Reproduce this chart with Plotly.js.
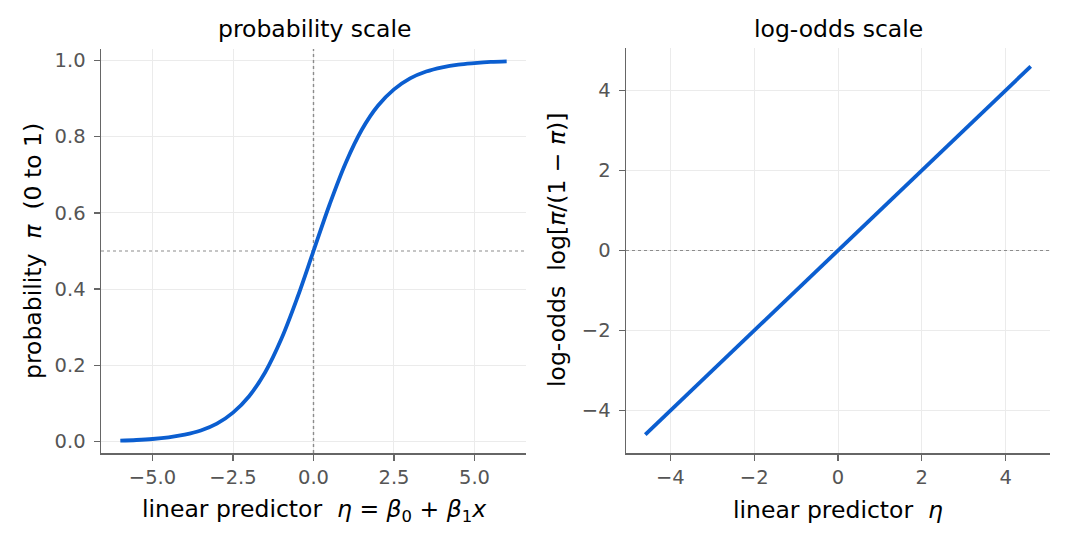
<!DOCTYPE html>
<html>
<head>
<meta charset="utf-8">
<script src="https://cdn.plot.ly/plotly-3.0.1.min.js"></script>
<style>
  html, body { margin: 0; padding: 0; background: #fff; }
  #chart { width: 1068px; height: 543px; }
</style>
</head>
<body>
<div id="chart"></div>
<script>
// Linear predictor values and the corresponding probabilities (logistic curve)
const eta = [-6, -5.5, -5, -4.5, -4, -3.5, -3, -2.5, -2, -1.5, -1, -0.5, 0,
             0.5, 1, 1.5, 2, 2.5, 3, 3.5, 4, 4.5, 5, 5.5, 6];
const prob = [0.0025, 0.0041, 0.0067, 0.011, 0.018, 0.029, 0.047, 0.076, 0.119, 0.182, 0.269, 0.378, 0.5,
              0.622, 0.731, 0.818, 0.881, 0.924, 0.953, 0.971, 0.982, 0.989, 0.993, 0.996, 0.9975];

// Log-odds panel: straight line across the same predictor
const etaLogit = [-4.6, -2, 0, 2, 4.6];
const logOdds = [-4.6, -2, 0, 2, 4.6];

// Tick positions
const probTicksX = [-5, -2.5, 0, 2.5, 5];
const probTicksY = [0, 0.2, 0.4, 0.6, 0.8, 1.0];
const logitTicks = [-4, -2, 0, 2, 4];

const W = 1068, H = 543;
const px = v => v / W;
const py = v => 1 - v / H;

const FONT = 'DejaVu Sans, Liberation Sans, sans-serif';
const BLUE = '#0b5ed0';
const SPINE = '#666666';
const TICKTXT = '#555555';
const GRID = '#ebebeb';
const REF = '#8c8c8c';
const LABEL_SIZE = 23.5;

const axisBase = {
  showline: true, linecolor: SPINE, linewidth: 1.5, mirror: false,
  ticks: 'outside', ticklen: 6, tickwidth: 1.3, tickcolor: SPINE,
  showgrid: true, gridcolor: GRID, gridwidth: 1,
  zeroline: false,
  tickfont: { family: FONT, size: 19.5, color: TICKTXT },
  fixedrange: true
};

const traces = [
  { x: eta, y: prob, type: 'scatter', mode: 'lines', xaxis: 'x', yaxis: 'y',
    line: { color: BLUE, width: 3.8, shape: 'spline', smoothing: 1 }, hoverinfo: 'skip' },
  { x: etaLogit, y: logOdds, type: 'scatter', mode: 'lines', xaxis: 'x2', yaxis: 'y2',
    line: { color: BLUE, width: 3.8 }, hoverinfo: 'skip' }
];

const layout = {
  width: W, height: H,
  margin: { l: 0, r: 0, t: 0, b: 0 },
  paper_bgcolor: '#ffffff', plot_bgcolor: '#ffffff',
  showlegend: false,
  font: { family: FONT, color: '#000' },
  xaxis: Object.assign({}, axisBase, {
    domain: [px(101), px(526)], range: [-6.6, 6.6],
    tickvals: probTicksX, tickformat: '.1f', anchor: 'y'
  }),
  yaxis: Object.assign({}, axisBase, {
    domain: [py(453), py(49)], range: [-0.03, 1.03],
    tickvals: probTicksY, tickformat: '.1f', anchor: 'x', ticklabelstandoff: 4
  }),
  xaxis2: Object.assign({}, axisBase, {
    domain: [px(626), px(1050)], range: [-5.06, 5.06],
    tickvals: logitTicks, anchor: 'y2'
  }),
  yaxis2: Object.assign({}, axisBase, {
    domain: [py(453), py(48)], range: [-5.06, 5.06],
    tickvals: logitTicks, anchor: 'x2', ticklabelstandoff: 4
  }),
  shapes: [
    // reference lines: eta = 0 and pi = 0.5 on the probability panel
    { type: 'line', xref: 'x', yref: 'y', x0: 0, x1: 0, y0: -0.03, y1: 1.03,
      line: { color: REF, width: 1.4, dash: 'dot' }, layer: 'between' },
    { type: 'line', xref: 'x', yref: 'y', x0: -6.6, x1: 6.6, y0: 0.5, y1: 0.5,
      line: { color: REF, width: 1.2, dash: 'dot' }, layer: 'between' },
    // log-odds = 0 on the log-odds panel
    { type: 'line', xref: 'x2', yref: 'y2', x0: -5.06, x1: 5.06, y0: 0, y1: 0,
      line: { color: REF, width: 1.2, dash: 'dot' }, layer: 'between' }
  ],
  annotations: [
    { text: 'probability scale', xref: 'paper', yref: 'paper', x: px(314), y: py(29),
      showarrow: false, font: { family: FONT, size: LABEL_SIZE, color: '#000' }, xanchor: 'center', yanchor: 'middle' },
    { text: 'log-odds scale', xref: 'paper', yref: 'paper', x: px(838), y: py(29),
      showarrow: false, font: { family: FONT, size: LABEL_SIZE, color: '#000' }, xanchor: 'center', yanchor: 'middle' },
    { text: 'linear predictor\u00a0\u00a0<i>η</i> = <i>β</i><sub>0</sub> + <i>β</i><sub>1</sub><i>x</i>',
      xref: 'paper', yref: 'paper', x: px(314), y: py(510),
      showarrow: false, font: { family: FONT, size: LABEL_SIZE, color: '#000' }, xanchor: 'center', yanchor: 'middle' },
    { text: 'linear predictor\u00a0\u00a0<i>η</i>',
      xref: 'paper', yref: 'paper', x: px(838), y: py(510),
      showarrow: false, font: { family: FONT, size: LABEL_SIZE, color: '#000' }, xanchor: 'center', yanchor: 'middle' },
    { text: 'probability\u00a0\u00a0<i>π</i>\u00a0\u00a0(0 to 1)',
      xref: 'paper', yref: 'paper', x: px(33), y: py(251), textangle: -90,
      showarrow: false, font: { family: FONT, size: LABEL_SIZE, color: '#000' }, xanchor: 'center', yanchor: 'middle' },
    { text: 'log-odds\u00a0\u00a0log[<i>π</i>/(1 − <i>π</i>)]',
      xref: 'paper', yref: 'paper', x: px(557), y: py(250), textangle: -90,
      showarrow: false, font: { family: FONT, size: LABEL_SIZE, color: '#000' }, xanchor: 'center', yanchor: 'middle' }
  ]
};

Plotly.newPlot('chart', traces, layout, { displayModeBar: false, staticPlot: true });
</script>
</body>
</html>
